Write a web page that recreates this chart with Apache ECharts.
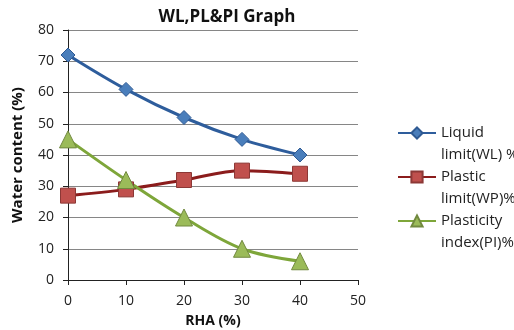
<!DOCTYPE html>
<html>
<head>
<meta charset="utf-8">
<script src="https://cdn.jsdelivr.net/npm/echarts@6/dist/echarts.min.js"></script>
<style>
html,body{margin:0;padding:0;background:#fff;}
#chart{width:514px;height:330px;}
</style>
</head>
<body>
<div id="chart"></div>
<script>
// RHA content (%) and the Atterberg limits measured at each level
var rha = [0, 10, 20, 30, 40];
var liquidLimit = [72, 61, 52, 45, 40];
var plasticLimit = [27, 29, 32, 35, 34];
var plasticityIndex = [45, 32, 20, 10, 6];
var seriesNames = ['Liquid\nlimit(WL) %', 'Plastic\nlimit(WP)%', 'Plasticity\nindex(PI)%'];

var FONT = '"Open Sans", "Liberation Sans", sans-serif';

function pairs(xs, ys) {
  return xs.map(function (x, i) { return [x, ys[i]]; });
}

function lineSeries(name, values, symbol, size, lineColor, fill, border) {
  return {
    name: name,
    type: 'line',
    smooth: 0.35,
    data: pairs(rha, values),
    symbol: symbol,
    symbolSize: size,
    lineStyle: { color: lineColor, width: 3 },
    itemStyle: { color: fill, borderColor: border, borderWidth: 1 },
    z: 3
  };
}

var chart = echarts.init(document.getElementById('chart'));
chart.setOption({
  animation: false,
  title: {
    text: 'WL,PL&PI Graph',
    left: 222, top: 4,
    textAlign: 'center',
    textStyle: { fontFamily: FONT, fontSize: 17, fontWeight: 'bold', color: '#111' }
  },
  grid: { left: 68, right: 156, top: 30, bottom: 50, outerBoundsMode: 'none', containLabel: false },
  legend: {
    orient: 'vertical',
    left: 392, top: 95,
    itemWidth: 38, itemHeight: 14,
    itemGap: -22,
    // a blank first line keeps each icon level with the first text line
    formatter: function (name) { return '\n' + name; },
    textStyle: {
      fontFamily: FONT, fontSize: 15, color: '#222',
      lineHeight: 22
    },
    data: seriesNames
  },
  xAxis: {
    type: 'value',
    min: 0, max: 50, interval: 10,
    name: 'RHA (%)',
    nameLocation: 'middle',
    nameGap: 34,
    nameTextStyle: { fontFamily: FONT, fontSize: 14, fontWeight: 'bold', color: '#111' },
    axisLine: { lineStyle: { color: '#222', width: 1 } },
    axisTick: { show: true, length: 5, lineStyle: { color: '#222' } },
    axisLabel: { fontFamily: FONT, fontSize: 14, color: '#222', margin: 14 },
    splitLine: { show: false }
  },
  yAxis: {
    type: 'value',
    min: 0, max: 80, interval: 10,
    name: 'Water content (%)',
    nameLocation: 'middle',
    nameGap: 43,
    nameTextStyle: { fontFamily: FONT, fontSize: 15, fontWeight: 'bold', color: '#111' },
    axisLine: { show: true, lineStyle: { color: '#222', width: 1 } },
    axisTick: { show: true, length: 5, lineStyle: { color: '#222' } },
    axisLabel: { fontFamily: FONT, fontSize: 14, color: '#222', margin: 14 },
    splitLine: { lineStyle: { color: '#868686', width: 1 } }
  },
  series: [
    lineSeries(seriesNames[0], liquidLimit, 'diamond', 14, '#2e5d9c', '#4a7ebb', '#2f5a93'),
    lineSeries(seriesNames[1], plasticLimit, 'rect', 15, '#8b1c1c', '#c0504d', '#8c3836'),
    lineSeries(seriesNames[2], plasticityIndex, 'triangle', 17, '#7ea63a', '#9bbb59', '#71893f')
  ]
});
</script>
</body>
</html>
